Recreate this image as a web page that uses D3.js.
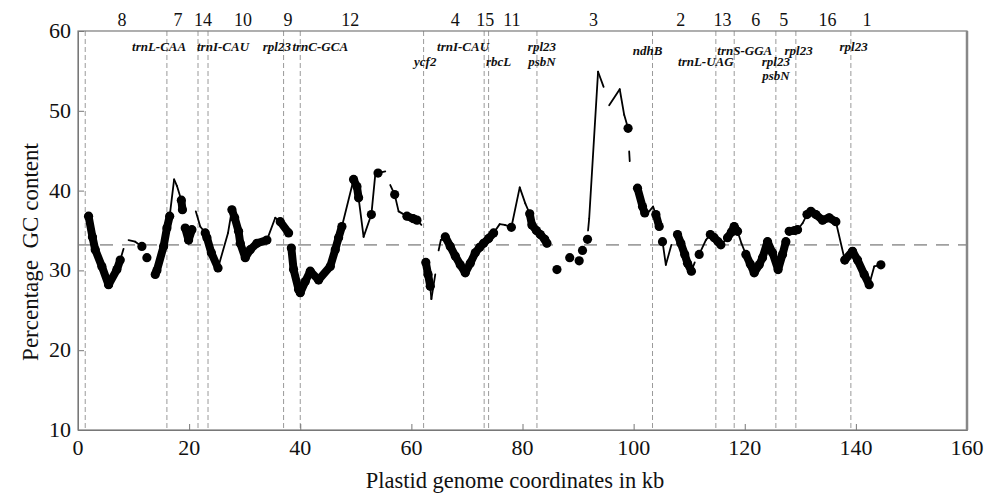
<!DOCTYPE html>
<html>
<head>
<meta charset="utf-8">
<script src="https://cdn.jsdelivr.net/npm/d3@7"></script>
<style>
  body { margin: 0; background: #fff; }
  text { font-family: "Liberation Serif", "Times New Roman", serif; fill: #111; }
  .gene { font-style: italic; font-weight: bold; font-size: 13px; }
</style>
</head>
<body>
<div id="chart"></div>
<script>
//window size
var width = 998;
var height = 493;

//GC content along the genome (kb, %); null = break in the curve
//style: t = thin line, d = dot joined thick to previous dot, j = dot with thin join
var posKb = [1.9, 2.6, 3.1, 4.3, 5.5, 7.0, 7.6, 8.2, null, 9.1, 10.3, 11.5, null, 12.4, null,
  13.9, 14.2, 15.4, 16.0, 16.5, 17.3, 17.8, 18.6, 18.8, null, 19.3, 19.9, 20.5, null,
  21.2, 22.0, 22.9, 23.2, 24.0, 25.2, 27.0, 27.7, 28.2, 28.9, 29.2, 30.1, 31.0, 32.2, 34.0,
  35.5, 36.4, 37.9, null, 38.4, 38.8, 39.7, 40.0, 40.9, 41.8, 43.3, 45.4, 46.3, 46.9, 47.5,
  49.6, 50.2, 50.5, 51.4, 52.8, 53.5, 54.0, 55.3, null, 56.2, 57.0, 57.7, 59.2, 60.3, 61.0, 61.8,
  null, 62.2, null, 62.6, 63.0, 63.4, 63.6, 64.3, null, 64.9, 65.3, 66.1, 67.0, 67.9, 68.8,
  69.7, 70.6, 71.5, 72.3, 73.0, 73.9, 74.8, 75.9, 76.8, 78.0, 79.5, 80.5, 81.3, 81.7, 82.5,
  83.2, 84.0, 84.4, null, 86.2, null, 88.5, null, 90.2, null, 90.8, null, 91.7, null,
  91.8, 92.0, 93.6, 94.6, null, 95.6, 97.5, 98.3, 99.0, null, 99.2, 99.3, null,
  100.7, 101.6, 102.0, 102.8, 103.5, 104.0, 104.6, null, 105.2, 105.8, 106.8, null,
  107.9, 108.5, 109.2, 109.7, 110.4, 111.0, null, 111.8, 113.0, 113.8, 114.5, 115.2, 115.7,
  116.9, 117.6, 118.1, 118.7, 119.4, 120.2, 121.0, 121.7, 122.6, 123.2, 124.1, 125.0, 126.0,
  126.8, 127.4, null, 128.0, 129.0, 129.5, 130.4, 131.2, 131.9, 132.8, 134.0, 135.2, 136.4,
  138.0, 139.4, 140.3, 141.5, 142.4, 143.3, 144.5];
var gcValues = [36.8, 34.2, 32.6, 30.5, 28.2, 30.1, 31.3, 32.7, null, 33.8, 33.6, 33.0, null, 31.6, null,
  29.5, 30.0, 33.0, 35.3, 36.8, 41.4, 40.6, 38.8, 37.6, null, 35.3, 33.8, 35.1, null,
  37.4, 35.5, 34.7, 34.1, 32.2, 30.3, 34.7, 37.6, 36.6, 34.9, 33.4, 31.6, 32.6, 33.4, 33.8,
  36.6, 36.1, 34.7, null, 32.8, 30.1, 27.6, 27.2, 28.6, 29.9, 28.8, 30.5, 32.6, 34.1, 35.5,
  41.4, 40.5, 39.1, 34.2, 37.0, 42.0, 42.2, 42.4, null, 40.7, 39.5, 37.4, 36.8, 36.5, 36.3, 35.7,
  null, 32.8, null, 31.0, 29.5, 28.0, 26.4, 29.5, null, 32.5, 33.8, 34.2, 33.0, 31.8, 30.7,
  29.7, 30.9, 32.2, 32.9, 33.4, 34.0, 34.7, 35.8, 35.7, 35.4, 40.4, 38.4, 37.1, 35.7, 35.0,
  34.5, 33.9, 33.4, null, 30.1, null, 31.6, null, 31.2, null, 32.5, null, 33.9, null,
  35.0, 36.5, 54.9, 53.0, null, 50.7, 52.7, 49.5, 47.8, null, 44.9, 43.7, null,
  40.3, 38.0, 37.2, 37.4, 38.0, 37.0, 35.5, null, 33.6, 30.7, 33.2, null,
  34.5, 33.4, 32.0, 30.9, 29.9, 31.0, null, 32.0, 33.8, 34.5, 34.1, 33.6, 33.2,
  34.1, 34.8, 35.5, 34.9, 33.4, 32.0, 30.8, 29.7, 30.7, 31.6, 33.6, 32.2, 30.1,
  32.0, 33.6, null, 34.9, 35.0, 35.1, 35.9, 37.0, 37.4, 37.0, 36.3, 36.6, 36.1,
  31.3, 32.4, 31.3, 29.5, 28.2, 30.5, 30.7];
var pointStyle = ['d', 'd', 'd', 'd', 'd', 'd', 'd', 't', null, 't', 't', 'j', null, 'j', null,
  'j', 'd', 'd', 'd', 'd', 't', 't', 'j', 'd', null, 'j', 'd', 'd', null,
  't', 't', 'j', 'd', 'd', 'd', 't', 'j', 'd', 'd', 'd', 'd', 'd', 'd', 'd',
  't', 'j', 'd', null, 'j', 'd', 'd', 'd', 'd', 'd', 'd', 'd', 'd', 'd', 'd',
  'j', 'd', 'd', 't', 'j', 't', 'j', 't', null, 't', 'j', 't', 'j', 'd', 'd', 't',
  null, 't', null, 'j', 'd', 'd', 't', 't', null, 't', 't', 'j', 'd', 'd', 'd',
  'd', 'd', 'd', 'd', 'd', 'd', 'd', 't', 't', 'j', 't', 't', 'j', 'd', 'd',
  'd', 'd', 'd', null, 'j', null, 'j', null, 'j', null, 'j', null, 'j', null,
  't', 't', 't', 't', null, 't', 't', 't', 'j', null, 't', 't', null,
  'j', 'd', 'd', 't', 't', 'j', 'd', null, 'j', 't', 't', null,
  'j', 'd', 'd', 'd', 'd', 't', null, 'j', 't', 'j', 'd', 'd', 'd',
  'j', 'd', 'd', 'd', 't', 'j', 'd', 'd', 'd', 'd', 'd', 'd', 'd',
  'd', 'd', null, 'j', 'd', 'd', 't', 'j', 'd', 'd', 'd', 'd', 'd',
  'j', 'd', 'd', 'd', 'd', 't', 'j'];

//average GC level (horizontal dashed line)
var meanGC = 33.2;

//boundaries of the regions (vertical dashed lines, kb)
var boundaryKb = [1.3, 16.0, 21.6, 23.4, 37.0, 40.0, 62.2, 73.1, 73.9, 82.6, 103.4, 114.8, 118.1, 125.6, 129.2, 139.1];

//region numbers along the top
var regionLabels = ['8', '7', '14', '10', '9', '12', '4', '15', '11', '3', '2', '13', '6', '5', '16', '1'];
var regionKb = [7.9, 18.0, 22.5, 29.7, 37.8, 49.0, 67.9, 73.3, 78.1, 92.8, 108.5, 116.0, 122.0, 127.0, 134.9, 142.0];

//gene names and their row under the top border
var geneNames = ['trnL-CAA', 'trnI-CAU', 'rpl23', 'trnC-GCA', 'ycf2', 'trnI-CAU', 'rbcL', 'rpl23', 'psbN',
  'ndhB', 'trnL-UAG', 'trnS-GGA', 'rpl23', 'psbN', 'rpl23', 'rpl23'];
var geneKb = [14.6, 26.1, 35.8, 43.6, 62.5, 69.3, 75.7, 83.5, 83.5, 102.5, 113.0, 120.0, 125.6, 125.6, 129.7, 139.6];
var geneRow = [0, 0, 0, 0, 2, 0, 2, 0, 2, 1, 2, 1, 2, 3, 1, 0];

//tick values
var xTicks = [0, 20, 40, 60, 80, 100, 120, 140, 160];
var yTicks = [10, 20, 30, 40, 50, 60];

//plot box
var plotLeft = 78, plotRight = 967, plotTop = 31, plotBottom = 430;
var rowY = [51, 55, 66, 80];

var svg = d3.select('#chart')
    .append('svg')
    .attr('width', width)
    .attr('height', height);

var xScale = d3.scaleLinear().domain([0, 160]).range([plotLeft, plotRight]);
var yScale = d3.scaleLinear().domain([10, 60]).range([plotBottom, plotTop]);

//vertical dashed boundaries
svg.selectAll('line.bound')
    .data(boundaryKb)
    .enter()
    .append('line')
    .attr('class', 'bound')
    .attr('x1', function(d) { return xScale(d); })
    .attr('x2', function(d) { return xScale(d); })
    .attr('y1', plotTop)
    .attr('y2', plotBottom)
    .attr('stroke', '#9a9a9a')
    .attr('stroke-width', 1)
    .attr('stroke-dasharray', '5,3');

//mean GC line
svg.append('line')
    .attr('x1', plotLeft)
    .attr('x2', plotRight)
    .attr('y1', yScale(meanGC))
    .attr('y2', yScale(meanGC))
    .attr('stroke', '#a0a0a0')
    .attr('stroke-width', 1.6)
    .attr('stroke-dasharray', '13,9');

//axes (ticks pointing inward)
var xAxis = d3.axisTop(xScale).tickValues(xTicks).tickSize(6).tickFormat('');
var yAxis = d3.axisRight(yScale).tickValues(yTicks).tickSize(6).tickFormat('');

svg.append('g')
    .attr('transform', 'translate(0,' + plotBottom + ')')
    .call(xAxis)
    .call(function(g) { g.selectAll('line, path').attr('stroke', '#777'); });

svg.append('g')
    .attr('transform', 'translate(' + plotLeft + ',0)')
    .call(yAxis)
    .call(function(g) { g.selectAll('line, path').attr('stroke', '#777'); });

//box
svg.append('rect')
    .attr('x', plotLeft)
    .attr('y', plotTop)
    .attr('width', plotRight - plotLeft)
    .attr('height', plotBottom - plotTop)
    .attr('fill', 'none')
    .attr('stroke', '#7a7a7a')
    .attr('stroke-width', 1.2);

svg.append('line')
    .attr('x1', plotRight).attr('x2', plotRight)
    .attr('y1', plotTop).attr('y2', plotBottom)
    .attr('stroke', '#888')
    .attr('stroke-width', 2.5);

//tick labels
svg.selectAll('text.xt')
    .data(xTicks)
    .enter()
    .append('text')
    .attr('class', 'xt')
    .attr('x', function(d) { return xScale(d); })
    .attr('y', plotBottom + 25)
    .attr('text-anchor', 'middle')
    .style('font-size', '22px')
    .text(function(d) { return d; });

svg.selectAll('text.yt')
    .data(yTicks)
    .enter()
    .append('text')
    .attr('class', 'yt')
    .attr('x', plotLeft - 7)
    .attr('y', function(d) { return yScale(d) + 7; })
    .attr('text-anchor', 'end')
    .style('font-size', '22px')
    .text(function(d) { return d; });

//axis titles
svg.append('text')
    .attr('x', 515)
    .attr('y', 488)
    .attr('text-anchor', 'middle')
    .style('font-size', '22.5px')
    .text('Plastid genome coordinates in kb');

svg.append('text')
    .attr('transform', 'translate(38,' + 252 + ')rotate(-90)')
    .attr('text-anchor', 'middle')
    .style('font-size', '23px')
    .text('Percentage\u00a0\u00a0GC content');

//region numbers
svg.selectAll('text.region')
    .data(regionLabels)
    .enter()
    .append('text')
    .attr('class', 'region')
    .attr('x', function(d, i) { return xScale(regionKb[i]); })
    .attr('y', 26)
    .attr('text-anchor', 'middle')
    .style('font-size', '18px')
    .text(function(d) { return d; });

//gene names
svg.selectAll('text.gene')
    .data(geneNames)
    .enter()
    .append('text')
    .attr('class', 'gene')
    .attr('x', function(d, i) { return xScale(geneKb[i]); })
    .attr('y', function(d, i) { return rowY[geneRow[i]]; })
    .attr('text-anchor', 'middle')
    .text(function(d) { return d; });

//GC curve
var pts = posKb.map(function(k, i) {
    return { kb: k, gc: gcValues[i], s: pointStyle[i] };
});

var line = d3.line()
    .x(function(d) { return xScale(d.kb); })
    .y(function(d) { return yScale(d.gc); });

var curve = svg.append('g');

for (var i = 1; i < pts.length; i++) {
    var a = pts[i - 1], b = pts[i];
    if (a.gc === null || b.gc === null) continue;
    var thick = b.s === 'd' && (a.s === 'd' || a.s === 'j');
    curve.append('path')
        .attr('d', line([a, b]))
        .attr('fill', 'none')
        .attr('stroke', '#000')
        .attr('stroke-linecap', 'round')
        .attr('stroke-width', thick ? 8 : 1.8);
}

curve.selectAll('circle')
    .data(pts.filter(function(d) { return d.gc !== null && (d.s === 'd' || d.s === 'j'); }))
    .enter()
    .append('circle')
    .attr('cx', function(d) { return xScale(d.kb); })
    .attr('cy', function(d) { return yScale(d.gc); })
    .attr('r', 4.6)
    .attr('fill', '#000');
</script>
</body>
</html>
